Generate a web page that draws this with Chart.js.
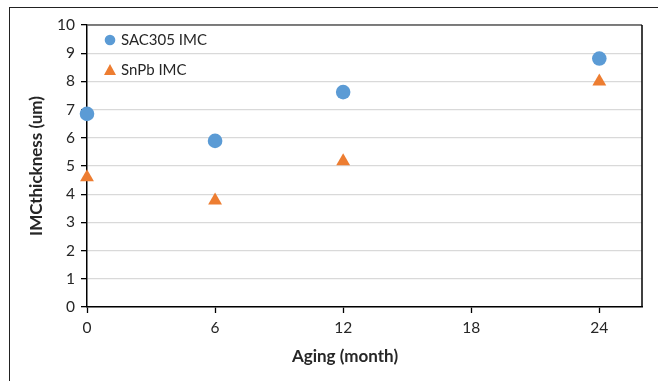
<!DOCTYPE html>
<html>
<head>
<meta charset="utf-8">
<script src="https://cdn.jsdelivr.net/npm/chart.js@4/dist/chart.umd.min.js"></script>
<style>
  html, body { margin: 0; padding: 0; background: #fff; }
  #wrap { position: relative; width: 658px; height: 381px; overflow: hidden; }
  #frame { position: absolute; left: 9px; top: 7px; width: 700px; height: 400px;
           border-left: 1px solid #222; border-top: 1px solid #222; }
  canvas { position: absolute; left: 0; top: 0; }
</style>
</head>
<body>
<div id="wrap">
  <div id="frame"></div>
  <canvas id="chart" width="658" height="381"></canvas>
</div>
<script>
const months = [0, 6, 12, 24];
const sac305 = [6.85, 5.89, 7.62, 8.81];
const snpb = [4.6, 3.78, 5.17, 8.0];
const xTicks = [0, 6, 12, 18, 24];
const yTicks = [0, 1, 2, 3, 4, 5, 6, 7, 8, 9, 10];
const seriesNames = ["SAC305 IMC", "SnPb IMC"];
const xTitle = "Aging (month)";
const yTitle = "IMCthickness (um)";

const font = "Lato, 'Open Sans', sans-serif";
const blue = "#5B9BD5";
const orange = "#ED7D31";

// legend inside the plot + plot frame + axis titles
const extras = {
  id: "extras",
  afterDraw(chart){
    const ctx = chart.ctx;
    const a = chart.chartArea;
    ctx.save();
    // top / right frame of plot area
    ctx.strokeStyle = "#595959";
    ctx.lineWidth = 1.5;
    ctx.beginPath();
    ctx.moveTo(a.left, a.top);
    ctx.lineTo(a.right, a.top);
    ctx.stroke();
    ctx.strokeStyle = "#000";
    ctx.beginPath();
    ctx.moveTo(a.right, a.top);
    ctx.lineTo(a.right, a.bottom);
    ctx.stroke();

    // legend
    ctx.font = "15px " + font;
    ctx.textBaseline = "middle";
    chart.data.datasets.forEach((ds, i)=>{
      const cx = a.left + 23, cy = a.top + 15 + i * 30.5;
      ctx.fillStyle = ds.backgroundColor;
      ctx.beginPath();
      if(ds.pointStyle === "circle"){
        ctx.arc(cx, cy, 5.3, 0, Math.PI * 2);
      } else {
        ctx.moveTo(cx, cy - 6.5);
        ctx.lineTo(cx + 6, cy + 4.5);
        ctx.lineTo(cx - 6, cy + 4.5);
        ctx.closePath();
      }
      ctx.fill();
      ctx.fillStyle = "#262626";
      ctx.textAlign = "left";
      ctx.fillText(ds.label, cx + 11, cy);
    });

    // axis titles
    ctx.font = "bold 17px " + font;
    ctx.fillStyle = "#262626";
    ctx.textAlign = "center";
    ctx.fillText(xTitle, 345, 357);
    ctx.translate(37, (a.top + a.bottom) / 2);
    ctx.rotate(-Math.PI / 2);
    ctx.fillText(yTitle, 0, 0);
    ctx.restore();
  }
};

new Chart(document.getElementById("chart"), {
  type: "scatter",
  data: {
    datasets: [
      { label: seriesNames[0], data: months.map((m,i)=>({x:m, y:sac305[i]})),
        pointStyle: "circle", pointRadius: 7.3, pointHoverRadius: 7.3, clip: false,
        backgroundColor: blue, borderColor: blue, borderWidth: 0 },
      { label: seriesNames[1], data: months.map((m,i)=>({x:m, y:snpb[i]})),
        pointStyle: "triangle", pointRadius: 8, pointHoverRadius: 8, clip: false,
        backgroundColor: orange, borderColor: orange, borderWidth: 0 }
    ]
  },
  options: {
    responsive: false,
    animation: false,
    layout: { padding: { left: 0, right: 16, top: 25, bottom: 0 } },
    plugins: { legend: { display: false }, tooltip: { enabled: false } },
    scales: {
      x: {
        type: "linear", min: 0, max: 26,
        afterBuildTicks: s => { s.ticks = xTicks.map(v=>({value:v})); },
        afterFit: s => { s.height = 74; },
        ticks: { font: { family: font, size: 15.5 }, color: "#262626", padding: 6 },
        grid: { drawOnChartArea: false, drawTicks: true, tickLength: 6, tickColor: "#000", tickWidth: 1.3 },
        border: { color: "#000", width: 1.5 }
      },
      y: {
        type: "linear", min: 0, max: 10,
        afterBuildTicks: s => { s.ticks = yTicks.map(v=>({value:v})); },
        afterFit: s => { s.width = 87; },
        ticks: { font: { family: font, size: 15.5 }, color: "#262626", padding: 6 },
        grid: { color: "#d9d9d9", lineWidth: 1.3, drawTicks: true, tickLength: 6, tickColor: "#000", tickWidth: 1.3 },
        border: { color: "#000", width: 1.5 }
      }
    }
  },
  plugins: [extras]
});
</script>
</body>
</html>
